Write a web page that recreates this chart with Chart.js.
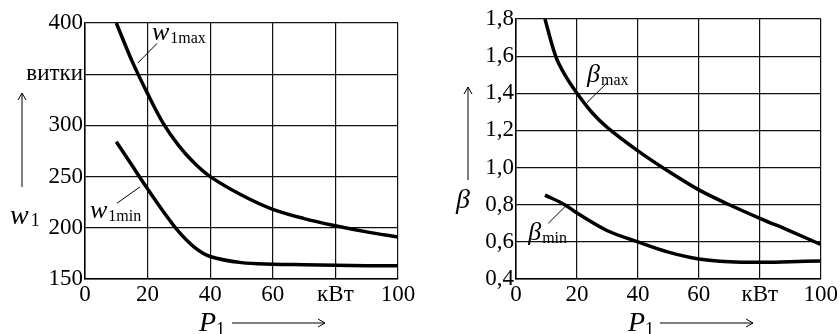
<!DOCTYPE html>
<html lang="ru">
<head>
  <meta charset="UTF-8">
  <title>w1 и β от P1</title>
  <script src="https://cdn.jsdelivr.net/npm/chart.js"></script>
  <style>
    body { margin: 0; background: #fff; }
    .box { position: absolute; top: 0; width: 420px; height: 334px; }
    #leftBox { left: 0; }
    #rightBox { left: 420px; }
  </style>
</head>
<body>
  <div class="box" id="leftBox"><canvas id="wChart" width="420" height="334"></canvas></div>
  <div class="box" id="rightBox"><canvas id="bChart" width="420" height="334"></canvas></div>

  <script>
    // мощность P1, кВт
    const pW = [10, 15, 20, 25, 30, 35, 40, 50, 60, 70, 80, 90, 100];
    const w1Max = [400, 363, 331, 302, 280, 263, 250, 232, 218, 209, 202, 196, 191];
    const w1Min = [284, 261, 238, 216, 196, 181, 172, 166, 164.5, 164, 163.5, 163, 163];

    const pB = [9.5, 13, 16, 20, 25, 30, 40, 50, 60, 70, 80, 90, 100];
    const betaMax = [1.8, 1.6, 1.5, 1.4, 1.295, 1.215, 1.09, 0.98, 0.88, 0.80, 0.727, 0.658, 0.586];
    const pB2 = [9.5, 16, 20, 30, 40, 50, 60, 70, 80, 90, 100];
    const betaMin = [0.852, 0.80, 0.755, 0.66, 0.60, 0.545, 0.508, 0.493, 0.49, 0.493, 0.497];

    const xTicks = [0, 20, 40, 60, 80, 100];
    const xTickText = ['0', '20', '40', '60', 'кВт', '100'];
    const wTickText = { 150: '150', 200: '200', 250: '250', 300: '300', 350: 'витки', 400: '400' };

    // ищем установленный шрифт с засечками
    function pickSerif() {
      const c = document.createElement('canvas').getContext('2d');
      const probe = 'витки 0123456789 wβP кВт';
      c.font = '40px monospace';
      const base = c.measureText(probe).width;
      const names = ['Liberation Serif', 'Times New Roman', 'Tinos', 'DejaVu Serif',
                     'Noto Serif', 'FreeSerif', 'Nimbus Roman', 'Times'];
      for (const n of names) {
        c.font = "40px '" + n + "', monospace";
        if (Math.abs(c.measureText(probe).width - base) > 0.5) return "'" + n + "', serif";
      }
      return 'serif';
    }
    const FONT = pickSerif();

    function pts(xs, ys) {
      return xs.map((x, i) => ({ x: x, y: ys[i] }));
    }

    function curve(data) {
      return {
        data: data,
        showLine: true,
        borderColor: '#000',
        borderWidth: 3.5,
        pointRadius: 0,
        tension: 0.35,
        fill: false
      };
    }

    function arrowUp(ctx, x, y1, y2) {
      ctx.beginPath();
      ctx.moveTo(x, y1); ctx.lineTo(x, y2);
      ctx.moveTo(x - 4, y2 + 7); ctx.lineTo(x, y2); ctx.lineTo(x + 4, y2 + 7);
      ctx.stroke();
    }

    function arrowRight(ctx, x1, x2, y) {
      ctx.beginPath();
      ctx.moveTo(x1, y); ctx.lineTo(x2, y);
      ctx.moveTo(x2 - 7, y - 4); ctx.lineTo(x2, y); ctx.lineTo(x2 - 7, y + 4);
      ctx.stroke();
    }

    // подписи кривых (в координатах данных) и оси
    function decor(cfg) {
      return {
        id: 'decor',
        afterDraw(chart) {
          const ctx = chart.ctx;
          const xs = chart.scales.x, ys = chart.scales.y;
          ctx.save();
          ctx.fillStyle = '#000';
          ctx.strokeStyle = '#000';
          ctx.lineWidth = 1;
          ctx.textBaseline = 'alphabetic';
          cfg.labels.forEach(l => {
            const px = xs.getPixelForValue(l.x), py = ys.getPixelForValue(l.y);
            ctx.font = 'italic 26px ' + FONT;
            ctx.fillText(l.main, px, py);
            const w = ctx.measureText(l.main).width;
            ctx.font = '16px ' + FONT;
            ctx.fillText(l.sub, px + w + 1, py + 3);
            ctx.beginPath();
            ctx.moveTo(xs.getPixelForValue(l.lead[0]), ys.getPixelForValue(l.lead[1]));
            ctx.lineTo(xs.getPixelForValue(l.lead[2]), ys.getPixelForValue(l.lead[3]));
            ctx.stroke();
          });
          // ось Y
          ctx.font = 'italic 28px ' + FONT;
          ctx.fillText(cfg.yName, cfg.yPos[0], cfg.yPos[1]);
          if (cfg.ySub) {
            const w = ctx.measureText(cfg.yName).width;
            ctx.font = '18px ' + FONT;
            ctx.fillText(cfg.ySub, cfg.yPos[0] + w + 2, cfg.yPos[1] + 2);
          }
          arrowUp(ctx, cfg.yArrow[0], cfg.yArrow[1], cfg.yArrow[2]);
          // ось X
          ctx.font = 'italic 28px ' + FONT;
          ctx.fillText('P', cfg.xPos[0], cfg.xPos[1]);
          const pw = ctx.measureText('P').width;
          ctx.font = '18px ' + FONT;
          ctx.fillText('1', cfg.xPos[0] + pw, cfg.xPos[1] + 4);
          arrowRight(ctx, cfg.xArrow[0], cfg.xArrow[1], cfg.xArrow[2]);
          ctx.restore();
        }
      };
    }

    function baseOptions(yMin, yMax, yStep, yFmt, pad, yWidth) {
      return {
        responsive: false,
        animation: false,
        layout: { padding: pad, autoPadding: false },
        plugins: { legend: { display: false }, tooltip: { enabled: false } },
        scales: {
          x: {
            type: 'linear', min: 0, max: 100,
            afterBuildTicks: s => { s.ticks = xTicks.map(v => ({ value: v })); },
            afterFit: s => { s.height = 55; },
            grid: { color: '#111', lineWidth: 1.2, drawTicks: false },
            border: { color: '#000', width: 1.5 },
            ticks: {
              color: '#000', padding: 2, maxRotation: 0, autoSkip: false,
              font: { family: FONT, size: 23 },
              callback: v => xTickText[xTicks.indexOf(v)]
            }
          },
          y: {
            type: 'linear', min: yMin, max: yMax,
            afterFit: s => { s.width = yWidth; },
            grid: { color: '#111', lineWidth: 1.2, drawTicks: false },
            border: { color: '#000', width: 1.5 },
            ticks: {
              color: '#000', padding: 2, stepSize: yStep, autoSkip: false,
              font: { family: FONT, size: 23 },
              callback: yFmt
            }
          }
        }
      };
    }

    new Chart(document.getElementById('wChart'), {
      type: 'scatter',
      data: { datasets: [curve(pts(pW, w1Max)), curve(pts(pW, w1Min))] },
      options: baseOptions(150, 400, 50, v => wTickText[v],
        { top: 23, right: 22, bottom: 0, left: 0 }, 85),
      plugins: [decor({
        labels: [
          { main: 'w', sub: '1max', x: 21.4, y: 383, lead: [16.9, 361, 23, 380] },
          { main: 'w', sub: '1min', x: 1.6, y: 210, lead: [10.2, 224, 17.6, 240] }
        ],
        yName: 'w', ySub: '1', yPos: [10, 224], yArrow: [22, 187, 93],
        xPos: [199, 331], xArrow: [232, 325, 323]
      })]
    });

    new Chart(document.getElementById('bChart'), {
      type: 'scatter',
      data: { datasets: [curve(pts(pB, betaMax)), curve(pts(pB2, betaMin))] },
      options: baseOptions(0.4, 1.8, 0.2, v => v.toFixed(1).replace('.', ','),
        { top: 19, right: 18, bottom: 0, left: 0 }, 96),
      plugins: [decor({
        labels: [
          { main: 'β', sub: 'max', x: 23.3, y: 1.46, lead: [23.3, 1.35, 29.8, 1.455] },
          { main: 'β', sub: 'min', x: 4, y: 0.61, lead: [10.6, 0.70, 16.1, 0.79] }
        ],
        yName: 'β', ySub: '', yPos: [36, 208], yArrow: [48, 180, 87],
        xPos: [208, 331], xArrow: [240, 333, 323]
      })]
    });
  </script>
</body>
</html>
